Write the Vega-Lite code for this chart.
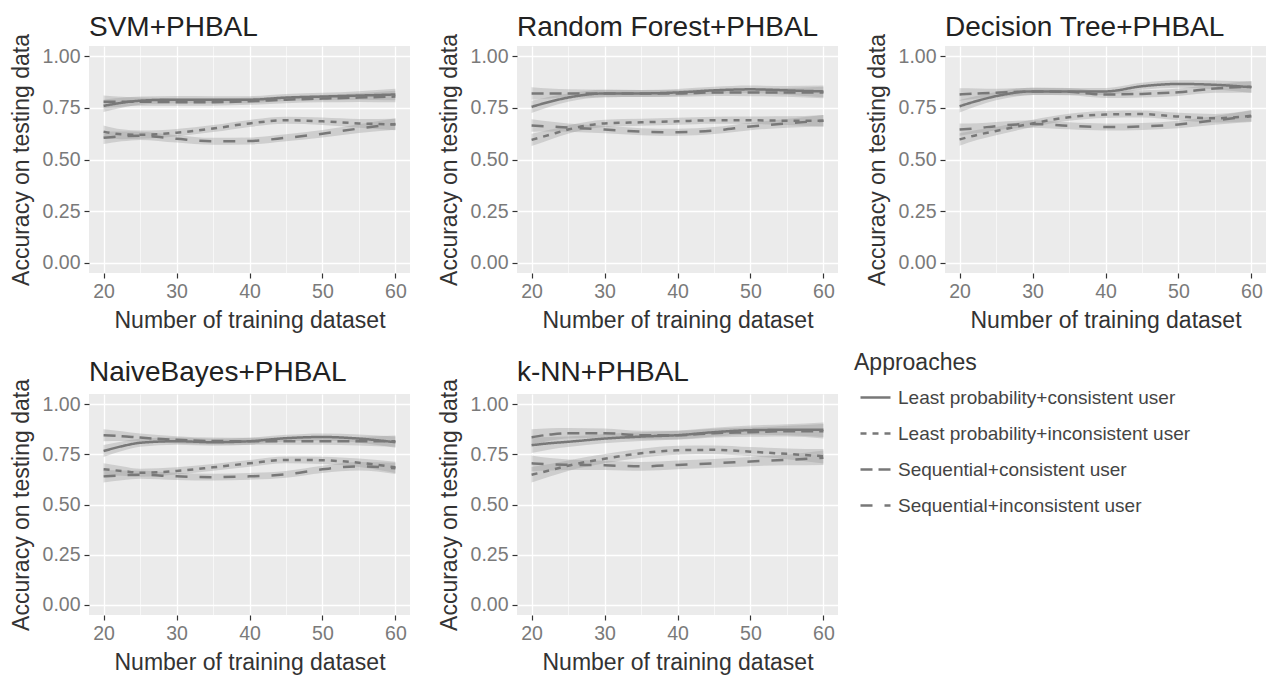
{
"$schema": "https://vega.github.io/schema/vega-lite/v6.json",
"padding": {"left": 10, "top": 13, "right": 5, "bottom": 5},
"background": "#ffffff",
"datasets": {"d": [
{"m":"SVM+PHBAL","a":"Least probability+consistent user","x":20,"y":0.76,"lo":0.73,"hi":0.79},
{"m":"SVM+PHBAL","a":"Least probability+consistent user","x":22.5,"y":0.775,"lo":0.751,"hi":0.799},
{"m":"SVM+PHBAL","a":"Least probability+consistent user","x":25,"y":0.785,"lo":0.765,"hi":0.805},
{"m":"SVM+PHBAL","a":"Least probability+consistent user","x":30,"y":0.79,"lo":0.772,"hi":0.808},
{"m":"SVM+PHBAL","a":"Least probability+consistent user","x":35,"y":0.79,"lo":0.773,"hi":0.807},
{"m":"SVM+PHBAL","a":"Least probability+consistent user","x":40,"y":0.79,"lo":0.773,"hi":0.807},
{"m":"SVM+PHBAL","a":"Least probability+consistent user","x":45,"y":0.8,"lo":0.783,"hi":0.817},
{"m":"SVM+PHBAL","a":"Least probability+consistent user","x":50,"y":0.805,"lo":0.787,"hi":0.823},
{"m":"SVM+PHBAL","a":"Least probability+consistent user","x":55,"y":0.81,"lo":0.789,"hi":0.831},
{"m":"SVM+PHBAL","a":"Least probability+consistent user","x":60,"y":0.815,"lo":0.787,"hi":0.843},
{"m":"SVM+PHBAL","a":"Least probability+inconsistent user","x":20,"y":0.635,"lo":0.605,"hi":0.665},
{"m":"SVM+PHBAL","a":"Least probability+inconsistent user","x":22.5,"y":0.622,"lo":0.598,"hi":0.646},
{"m":"SVM+PHBAL","a":"Least probability+inconsistent user","x":25,"y":0.62,"lo":0.6,"hi":0.64},
{"m":"SVM+PHBAL","a":"Least probability+inconsistent user","x":30,"y":0.63,"lo":0.612,"hi":0.648},
{"m":"SVM+PHBAL","a":"Least probability+inconsistent user","x":35,"y":0.65,"lo":0.633,"hi":0.667},
{"m":"SVM+PHBAL","a":"Least probability+inconsistent user","x":40,"y":0.675,"lo":0.658,"hi":0.692},
{"m":"SVM+PHBAL","a":"Least probability+inconsistent user","x":45,"y":0.69,"lo":0.673,"hi":0.707},
{"m":"SVM+PHBAL","a":"Least probability+inconsistent user","x":50,"y":0.685,"lo":0.667,"hi":0.703},
{"m":"SVM+PHBAL","a":"Least probability+inconsistent user","x":55,"y":0.675,"lo":0.654,"hi":0.696},
{"m":"SVM+PHBAL","a":"Least probability+inconsistent user","x":60,"y":0.67,"lo":0.642,"hi":0.698},
{"m":"SVM+PHBAL","a":"Sequential+consistent user","x":20,"y":0.78,"lo":0.75,"hi":0.81},
{"m":"SVM+PHBAL","a":"Sequential+consistent user","x":22.5,"y":0.78,"lo":0.756,"hi":0.804},
{"m":"SVM+PHBAL","a":"Sequential+consistent user","x":25,"y":0.78,"lo":0.76,"hi":0.8},
{"m":"SVM+PHBAL","a":"Sequential+consistent user","x":30,"y":0.778,"lo":0.76,"hi":0.796},
{"m":"SVM+PHBAL","a":"Sequential+consistent user","x":35,"y":0.778,"lo":0.761,"hi":0.795},
{"m":"SVM+PHBAL","a":"Sequential+consistent user","x":40,"y":0.782,"lo":0.765,"hi":0.799},
{"m":"SVM+PHBAL","a":"Sequential+consistent user","x":45,"y":0.79,"lo":0.773,"hi":0.807},
{"m":"SVM+PHBAL","a":"Sequential+consistent user","x":50,"y":0.795,"lo":0.777,"hi":0.813},
{"m":"SVM+PHBAL","a":"Sequential+consistent user","x":55,"y":0.8,"lo":0.779,"hi":0.821},
{"m":"SVM+PHBAL","a":"Sequential+consistent user","x":60,"y":0.805,"lo":0.777,"hi":0.833},
{"m":"SVM+PHBAL","a":"Sequential+inconsistent user","x":20,"y":0.605,"lo":0.575,"hi":0.635},
{"m":"SVM+PHBAL","a":"Sequential+inconsistent user","x":22.5,"y":0.612,"lo":0.588,"hi":0.636},
{"m":"SVM+PHBAL","a":"Sequential+inconsistent user","x":25,"y":0.615,"lo":0.595,"hi":0.635},
{"m":"SVM+PHBAL","a":"Sequential+inconsistent user","x":30,"y":0.6,"lo":0.582,"hi":0.618},
{"m":"SVM+PHBAL","a":"Sequential+inconsistent user","x":35,"y":0.588,"lo":0.571,"hi":0.605},
{"m":"SVM+PHBAL","a":"Sequential+inconsistent user","x":40,"y":0.59,"lo":0.573,"hi":0.607},
{"m":"SVM+PHBAL","a":"Sequential+inconsistent user","x":45,"y":0.605,"lo":0.588,"hi":0.622},
{"m":"SVM+PHBAL","a":"Sequential+inconsistent user","x":50,"y":0.625,"lo":0.607,"hi":0.643},
{"m":"SVM+PHBAL","a":"Sequential+inconsistent user","x":55,"y":0.65,"lo":0.629,"hi":0.671},
{"m":"SVM+PHBAL","a":"Sequential+inconsistent user","x":60,"y":0.672,"lo":0.644,"hi":0.7},
{"m":"Random Forest+PHBAL","a":"Least probability+consistent user","x":20,"y":0.755,"lo":0.725,"hi":0.785},
{"m":"Random Forest+PHBAL","a":"Least probability+consistent user","x":22.5,"y":0.78,"lo":0.756,"hi":0.804},
{"m":"Random Forest+PHBAL","a":"Least probability+consistent user","x":25,"y":0.8,"lo":0.78,"hi":0.82},
{"m":"Random Forest+PHBAL","a":"Least probability+consistent user","x":30,"y":0.82,"lo":0.802,"hi":0.838},
{"m":"Random Forest+PHBAL","a":"Least probability+consistent user","x":35,"y":0.82,"lo":0.803,"hi":0.837},
{"m":"Random Forest+PHBAL","a":"Least probability+consistent user","x":40,"y":0.825,"lo":0.808,"hi":0.842},
{"m":"Random Forest+PHBAL","a":"Least probability+consistent user","x":45,"y":0.835,"lo":0.818,"hi":0.852},
{"m":"Random Forest+PHBAL","a":"Least probability+consistent user","x":50,"y":0.84,"lo":0.822,"hi":0.858},
{"m":"Random Forest+PHBAL","a":"Least probability+consistent user","x":55,"y":0.835,"lo":0.814,"hi":0.856},
{"m":"Random Forest+PHBAL","a":"Least probability+consistent user","x":60,"y":0.83,"lo":0.802,"hi":0.858},
{"m":"Random Forest+PHBAL","a":"Least probability+inconsistent user","x":20,"y":0.595,"lo":0.565,"hi":0.625},
{"m":"Random Forest+PHBAL","a":"Least probability+inconsistent user","x":22.5,"y":0.62,"lo":0.596,"hi":0.644},
{"m":"Random Forest+PHBAL","a":"Least probability+inconsistent user","x":25,"y":0.645,"lo":0.625,"hi":0.665},
{"m":"Random Forest+PHBAL","a":"Least probability+inconsistent user","x":30,"y":0.675,"lo":0.657,"hi":0.693},
{"m":"Random Forest+PHBAL","a":"Least probability+inconsistent user","x":35,"y":0.68,"lo":0.663,"hi":0.697},
{"m":"Random Forest+PHBAL","a":"Least probability+inconsistent user","x":40,"y":0.685,"lo":0.668,"hi":0.702},
{"m":"Random Forest+PHBAL","a":"Least probability+inconsistent user","x":45,"y":0.69,"lo":0.673,"hi":0.707},
{"m":"Random Forest+PHBAL","a":"Least probability+inconsistent user","x":50,"y":0.69,"lo":0.672,"hi":0.708},
{"m":"Random Forest+PHBAL","a":"Least probability+inconsistent user","x":55,"y":0.688,"lo":0.667,"hi":0.709},
{"m":"Random Forest+PHBAL","a":"Least probability+inconsistent user","x":60,"y":0.688,"lo":0.66,"hi":0.716},
{"m":"Random Forest+PHBAL","a":"Sequential+consistent user","x":20,"y":0.82,"lo":0.79,"hi":0.85},
{"m":"Random Forest+PHBAL","a":"Sequential+consistent user","x":22.5,"y":0.82,"lo":0.796,"hi":0.844},
{"m":"Random Forest+PHBAL","a":"Sequential+consistent user","x":25,"y":0.82,"lo":0.8,"hi":0.84},
{"m":"Random Forest+PHBAL","a":"Sequential+consistent user","x":30,"y":0.82,"lo":0.802,"hi":0.838},
{"m":"Random Forest+PHBAL","a":"Sequential+consistent user","x":35,"y":0.82,"lo":0.803,"hi":0.837},
{"m":"Random Forest+PHBAL","a":"Sequential+consistent user","x":40,"y":0.82,"lo":0.803,"hi":0.837},
{"m":"Random Forest+PHBAL","a":"Sequential+consistent user","x":45,"y":0.825,"lo":0.808,"hi":0.842},
{"m":"Random Forest+PHBAL","a":"Sequential+consistent user","x":50,"y":0.825,"lo":0.807,"hi":0.843},
{"m":"Random Forest+PHBAL","a":"Sequential+consistent user","x":55,"y":0.825,"lo":0.804,"hi":0.846},
{"m":"Random Forest+PHBAL","a":"Sequential+consistent user","x":60,"y":0.825,"lo":0.797,"hi":0.853},
{"m":"Random Forest+PHBAL","a":"Sequential+inconsistent user","x":20,"y":0.665,"lo":0.635,"hi":0.695},
{"m":"Random Forest+PHBAL","a":"Sequential+inconsistent user","x":22.5,"y":0.66,"lo":0.636,"hi":0.684},
{"m":"Random Forest+PHBAL","a":"Sequential+inconsistent user","x":25,"y":0.655,"lo":0.635,"hi":0.675},
{"m":"Random Forest+PHBAL","a":"Sequential+inconsistent user","x":30,"y":0.645,"lo":0.627,"hi":0.663},
{"m":"Random Forest+PHBAL","a":"Sequential+inconsistent user","x":35,"y":0.635,"lo":0.618,"hi":0.652},
{"m":"Random Forest+PHBAL","a":"Sequential+inconsistent user","x":40,"y":0.632,"lo":0.615,"hi":0.649},
{"m":"Random Forest+PHBAL","a":"Sequential+inconsistent user","x":45,"y":0.64,"lo":0.623,"hi":0.657},
{"m":"Random Forest+PHBAL","a":"Sequential+inconsistent user","x":50,"y":0.66,"lo":0.642,"hi":0.678},
{"m":"Random Forest+PHBAL","a":"Sequential+inconsistent user","x":55,"y":0.675,"lo":0.654,"hi":0.696},
{"m":"Random Forest+PHBAL","a":"Sequential+inconsistent user","x":60,"y":0.688,"lo":0.66,"hi":0.716},
{"m":"Decision Tree+PHBAL","a":"Least probability+consistent user","x":20,"y":0.758,"lo":0.728,"hi":0.788},
{"m":"Decision Tree+PHBAL","a":"Least probability+consistent user","x":22.5,"y":0.785,"lo":0.761,"hi":0.809},
{"m":"Decision Tree+PHBAL","a":"Least probability+consistent user","x":25,"y":0.807,"lo":0.787,"hi":0.827},
{"m":"Decision Tree+PHBAL","a":"Least probability+consistent user","x":30,"y":0.83,"lo":0.812,"hi":0.848},
{"m":"Decision Tree+PHBAL","a":"Least probability+consistent user","x":35,"y":0.83,"lo":0.813,"hi":0.847},
{"m":"Decision Tree+PHBAL","a":"Least probability+consistent user","x":40,"y":0.83,"lo":0.813,"hi":0.847},
{"m":"Decision Tree+PHBAL","a":"Least probability+consistent user","x":45,"y":0.855,"lo":0.838,"hi":0.872},
{"m":"Decision Tree+PHBAL","a":"Least probability+consistent user","x":50,"y":0.866,"lo":0.848,"hi":0.884},
{"m":"Decision Tree+PHBAL","a":"Least probability+consistent user","x":55,"y":0.862,"lo":0.841,"hi":0.883},
{"m":"Decision Tree+PHBAL","a":"Least probability+consistent user","x":60,"y":0.85,"lo":0.822,"hi":0.878},
{"m":"Decision Tree+PHBAL","a":"Least probability+inconsistent user","x":20,"y":0.597,"lo":0.567,"hi":0.627},
{"m":"Decision Tree+PHBAL","a":"Least probability+inconsistent user","x":22.5,"y":0.62,"lo":0.596,"hi":0.644},
{"m":"Decision Tree+PHBAL","a":"Least probability+inconsistent user","x":25,"y":0.638,"lo":0.618,"hi":0.658},
{"m":"Decision Tree+PHBAL","a":"Least probability+inconsistent user","x":30,"y":0.675,"lo":0.657,"hi":0.693},
{"m":"Decision Tree+PHBAL","a":"Least probability+inconsistent user","x":35,"y":0.705,"lo":0.688,"hi":0.722},
{"m":"Decision Tree+PHBAL","a":"Least probability+inconsistent user","x":40,"y":0.718,"lo":0.701,"hi":0.735},
{"m":"Decision Tree+PHBAL","a":"Least probability+inconsistent user","x":45,"y":0.72,"lo":0.703,"hi":0.737},
{"m":"Decision Tree+PHBAL","a":"Least probability+inconsistent user","x":50,"y":0.708,"lo":0.69,"hi":0.726},
{"m":"Decision Tree+PHBAL","a":"Least probability+inconsistent user","x":55,"y":0.7,"lo":0.679,"hi":0.721},
{"m":"Decision Tree+PHBAL","a":"Least probability+inconsistent user","x":60,"y":0.712,"lo":0.684,"hi":0.74},
{"m":"Decision Tree+PHBAL","a":"Sequential+consistent user","x":20,"y":0.815,"lo":0.785,"hi":0.845},
{"m":"Decision Tree+PHBAL","a":"Sequential+consistent user","x":22.5,"y":0.82,"lo":0.796,"hi":0.844},
{"m":"Decision Tree+PHBAL","a":"Sequential+consistent user","x":25,"y":0.823,"lo":0.803,"hi":0.843},
{"m":"Decision Tree+PHBAL","a":"Sequential+consistent user","x":30,"y":0.83,"lo":0.812,"hi":0.848},
{"m":"Decision Tree+PHBAL","a":"Sequential+consistent user","x":35,"y":0.828,"lo":0.811,"hi":0.845},
{"m":"Decision Tree+PHBAL","a":"Sequential+consistent user","x":40,"y":0.815,"lo":0.798,"hi":0.832},
{"m":"Decision Tree+PHBAL","a":"Sequential+consistent user","x":45,"y":0.818,"lo":0.801,"hi":0.835},
{"m":"Decision Tree+PHBAL","a":"Sequential+consistent user","x":50,"y":0.826,"lo":0.808,"hi":0.844},
{"m":"Decision Tree+PHBAL","a":"Sequential+consistent user","x":55,"y":0.844,"lo":0.823,"hi":0.865},
{"m":"Decision Tree+PHBAL","a":"Sequential+consistent user","x":60,"y":0.853,"lo":0.825,"hi":0.881},
{"m":"Decision Tree+PHBAL","a":"Sequential+inconsistent user","x":20,"y":0.645,"lo":0.615,"hi":0.675},
{"m":"Decision Tree+PHBAL","a":"Sequential+inconsistent user","x":22.5,"y":0.652,"lo":0.628,"hi":0.676},
{"m":"Decision Tree+PHBAL","a":"Sequential+inconsistent user","x":25,"y":0.662,"lo":0.642,"hi":0.682},
{"m":"Decision Tree+PHBAL","a":"Sequential+inconsistent user","x":30,"y":0.672,"lo":0.654,"hi":0.69},
{"m":"Decision Tree+PHBAL","a":"Sequential+inconsistent user","x":35,"y":0.663,"lo":0.646,"hi":0.68},
{"m":"Decision Tree+PHBAL","a":"Sequential+inconsistent user","x":40,"y":0.657,"lo":0.64,"hi":0.674},
{"m":"Decision Tree+PHBAL","a":"Sequential+inconsistent user","x":45,"y":0.66,"lo":0.643,"hi":0.677},
{"m":"Decision Tree+PHBAL","a":"Sequential+inconsistent user","x":50,"y":0.67,"lo":0.652,"hi":0.688},
{"m":"Decision Tree+PHBAL","a":"Sequential+inconsistent user","x":55,"y":0.69,"lo":0.669,"hi":0.711},
{"m":"Decision Tree+PHBAL","a":"Sequential+inconsistent user","x":60,"y":0.71,"lo":0.682,"hi":0.738},
{"m":"NaiveBayes+PHBAL","a":"Least probability+consistent user","x":20,"y":0.766,"lo":0.736,"hi":0.796},
{"m":"NaiveBayes+PHBAL","a":"Least probability+consistent user","x":22.5,"y":0.79,"lo":0.766,"hi":0.814},
{"m":"NaiveBayes+PHBAL","a":"Least probability+consistent user","x":25,"y":0.807,"lo":0.787,"hi":0.827},
{"m":"NaiveBayes+PHBAL","a":"Least probability+consistent user","x":30,"y":0.815,"lo":0.797,"hi":0.833},
{"m":"NaiveBayes+PHBAL","a":"Least probability+consistent user","x":35,"y":0.81,"lo":0.793,"hi":0.827},
{"m":"NaiveBayes+PHBAL","a":"Least probability+consistent user","x":40,"y":0.815,"lo":0.798,"hi":0.832},
{"m":"NaiveBayes+PHBAL","a":"Least probability+consistent user","x":45,"y":0.83,"lo":0.813,"hi":0.847},
{"m":"NaiveBayes+PHBAL","a":"Least probability+consistent user","x":50,"y":0.836,"lo":0.818,"hi":0.854},
{"m":"NaiveBayes+PHBAL","a":"Least probability+consistent user","x":55,"y":0.828,"lo":0.807,"hi":0.849},
{"m":"NaiveBayes+PHBAL","a":"Least probability+consistent user","x":60,"y":0.81,"lo":0.782,"hi":0.838},
{"m":"NaiveBayes+PHBAL","a":"Least probability+inconsistent user","x":20,"y":0.675,"lo":0.645,"hi":0.705},
{"m":"NaiveBayes+PHBAL","a":"Least probability+inconsistent user","x":22.5,"y":0.667,"lo":0.643,"hi":0.691},
{"m":"NaiveBayes+PHBAL","a":"Least probability+inconsistent user","x":25,"y":0.658,"lo":0.638,"hi":0.678},
{"m":"NaiveBayes+PHBAL","a":"Least probability+inconsistent user","x":30,"y":0.667,"lo":0.649,"hi":0.685},
{"m":"NaiveBayes+PHBAL","a":"Least probability+inconsistent user","x":35,"y":0.685,"lo":0.668,"hi":0.702},
{"m":"NaiveBayes+PHBAL","a":"Least probability+inconsistent user","x":40,"y":0.705,"lo":0.688,"hi":0.722},
{"m":"NaiveBayes+PHBAL","a":"Least probability+inconsistent user","x":45,"y":0.722,"lo":0.705,"hi":0.739},
{"m":"NaiveBayes+PHBAL","a":"Least probability+inconsistent user","x":50,"y":0.72,"lo":0.702,"hi":0.738},
{"m":"NaiveBayes+PHBAL","a":"Least probability+inconsistent user","x":55,"y":0.708,"lo":0.687,"hi":0.729},
{"m":"NaiveBayes+PHBAL","a":"Least probability+inconsistent user","x":60,"y":0.685,"lo":0.657,"hi":0.713},
{"m":"NaiveBayes+PHBAL","a":"Sequential+consistent user","x":20,"y":0.845,"lo":0.815,"hi":0.875},
{"m":"NaiveBayes+PHBAL","a":"Sequential+consistent user","x":22.5,"y":0.84,"lo":0.816,"hi":0.864},
{"m":"NaiveBayes+PHBAL","a":"Sequential+consistent user","x":25,"y":0.833,"lo":0.813,"hi":0.853},
{"m":"NaiveBayes+PHBAL","a":"Sequential+consistent user","x":30,"y":0.822,"lo":0.804,"hi":0.84},
{"m":"NaiveBayes+PHBAL","a":"Sequential+consistent user","x":35,"y":0.816,"lo":0.799,"hi":0.833},
{"m":"NaiveBayes+PHBAL","a":"Sequential+consistent user","x":40,"y":0.815,"lo":0.798,"hi":0.832},
{"m":"NaiveBayes+PHBAL","a":"Sequential+consistent user","x":45,"y":0.815,"lo":0.798,"hi":0.832},
{"m":"NaiveBayes+PHBAL","a":"Sequential+consistent user","x":50,"y":0.815,"lo":0.797,"hi":0.833},
{"m":"NaiveBayes+PHBAL","a":"Sequential+consistent user","x":55,"y":0.815,"lo":0.794,"hi":0.836},
{"m":"NaiveBayes+PHBAL","a":"Sequential+consistent user","x":60,"y":0.815,"lo":0.787,"hi":0.843},
{"m":"NaiveBayes+PHBAL","a":"Sequential+inconsistent user","x":20,"y":0.64,"lo":0.61,"hi":0.67},
{"m":"NaiveBayes+PHBAL","a":"Sequential+inconsistent user","x":22.5,"y":0.645,"lo":0.621,"hi":0.669},
{"m":"NaiveBayes+PHBAL","a":"Sequential+inconsistent user","x":25,"y":0.648,"lo":0.628,"hi":0.668},
{"m":"NaiveBayes+PHBAL","a":"Sequential+inconsistent user","x":30,"y":0.64,"lo":0.622,"hi":0.658},
{"m":"NaiveBayes+PHBAL","a":"Sequential+inconsistent user","x":35,"y":0.636,"lo":0.619,"hi":0.653},
{"m":"NaiveBayes+PHBAL","a":"Sequential+inconsistent user","x":40,"y":0.64,"lo":0.623,"hi":0.657},
{"m":"NaiveBayes+PHBAL","a":"Sequential+inconsistent user","x":45,"y":0.65,"lo":0.633,"hi":0.667},
{"m":"NaiveBayes+PHBAL","a":"Sequential+inconsistent user","x":50,"y":0.675,"lo":0.657,"hi":0.693},
{"m":"NaiveBayes+PHBAL","a":"Sequential+inconsistent user","x":55,"y":0.69,"lo":0.669,"hi":0.711},
{"m":"NaiveBayes+PHBAL","a":"Sequential+inconsistent user","x":60,"y":0.68,"lo":0.652,"hi":0.708},
{"m":"k-NN+PHBAL","a":"Least probability+consistent user","x":20,"y":0.795,"lo":0.756,"hi":0.834},
{"m":"k-NN+PHBAL","a":"Least probability+consistent user","x":22.5,"y":0.805,"lo":0.774,"hi":0.836},
{"m":"k-NN+PHBAL","a":"Least probability+consistent user","x":25,"y":0.812,"lo":0.786,"hi":0.838},
{"m":"k-NN+PHBAL","a":"Least probability+consistent user","x":30,"y":0.828,"lo":0.805,"hi":0.851},
{"m":"k-NN+PHBAL","a":"Least probability+consistent user","x":35,"y":0.838,"lo":0.816,"hi":0.86},
{"m":"k-NN+PHBAL","a":"Least probability+consistent user","x":40,"y":0.845,"lo":0.823,"hi":0.867},
{"m":"k-NN+PHBAL","a":"Least probability+consistent user","x":45,"y":0.86,"lo":0.838,"hi":0.882},
{"m":"k-NN+PHBAL","a":"Least probability+consistent user","x":50,"y":0.87,"lo":0.847,"hi":0.893},
{"m":"k-NN+PHBAL","a":"Least probability+consistent user","x":55,"y":0.872,"lo":0.845,"hi":0.899},
{"m":"k-NN+PHBAL","a":"Least probability+consistent user","x":60,"y":0.872,"lo":0.836,"hi":0.908},
{"m":"k-NN+PHBAL","a":"Least probability+inconsistent user","x":20,"y":0.648,"lo":0.609,"hi":0.687},
{"m":"k-NN+PHBAL","a":"Least probability+inconsistent user","x":22.5,"y":0.67,"lo":0.639,"hi":0.701},
{"m":"k-NN+PHBAL","a":"Least probability+inconsistent user","x":25,"y":0.693,"lo":0.667,"hi":0.719},
{"m":"k-NN+PHBAL","a":"Least probability+inconsistent user","x":30,"y":0.728,"lo":0.705,"hi":0.751},
{"m":"k-NN+PHBAL","a":"Least probability+inconsistent user","x":35,"y":0.755,"lo":0.733,"hi":0.777},
{"m":"k-NN+PHBAL","a":"Least probability+inconsistent user","x":40,"y":0.77,"lo":0.748,"hi":0.792},
{"m":"k-NN+PHBAL","a":"Least probability+inconsistent user","x":45,"y":0.772,"lo":0.75,"hi":0.794},
{"m":"k-NN+PHBAL","a":"Least probability+inconsistent user","x":50,"y":0.763,"lo":0.74,"hi":0.786},
{"m":"k-NN+PHBAL","a":"Least probability+inconsistent user","x":55,"y":0.752,"lo":0.725,"hi":0.779},
{"m":"k-NN+PHBAL","a":"Least probability+inconsistent user","x":60,"y":0.74,"lo":0.704,"hi":0.776},
{"m":"k-NN+PHBAL","a":"Sequential+consistent user","x":20,"y":0.835,"lo":0.796,"hi":0.874},
{"m":"k-NN+PHBAL","a":"Sequential+consistent user","x":22.5,"y":0.848,"lo":0.817,"hi":0.879},
{"m":"k-NN+PHBAL","a":"Sequential+consistent user","x":25,"y":0.855,"lo":0.829,"hi":0.881},
{"m":"k-NN+PHBAL","a":"Sequential+consistent user","x":30,"y":0.855,"lo":0.832,"hi":0.878},
{"m":"k-NN+PHBAL","a":"Sequential+consistent user","x":35,"y":0.845,"lo":0.823,"hi":0.867},
{"m":"k-NN+PHBAL","a":"Sequential+consistent user","x":40,"y":0.845,"lo":0.823,"hi":0.867},
{"m":"k-NN+PHBAL","a":"Sequential+consistent user","x":45,"y":0.855,"lo":0.833,"hi":0.877},
{"m":"k-NN+PHBAL","a":"Sequential+consistent user","x":50,"y":0.86,"lo":0.837,"hi":0.883},
{"m":"k-NN+PHBAL","a":"Sequential+consistent user","x":55,"y":0.865,"lo":0.838,"hi":0.892},
{"m":"k-NN+PHBAL","a":"Sequential+consistent user","x":60,"y":0.865,"lo":0.829,"hi":0.901},
{"m":"k-NN+PHBAL","a":"Sequential+inconsistent user","x":20,"y":0.705,"lo":0.666,"hi":0.744},
{"m":"k-NN+PHBAL","a":"Sequential+inconsistent user","x":22.5,"y":0.7,"lo":0.669,"hi":0.731},
{"m":"k-NN+PHBAL","a":"Sequential+inconsistent user","x":25,"y":0.698,"lo":0.672,"hi":0.724},
{"m":"k-NN+PHBAL","a":"Sequential+inconsistent user","x":30,"y":0.695,"lo":0.672,"hi":0.718},
{"m":"k-NN+PHBAL","a":"Sequential+inconsistent user","x":35,"y":0.69,"lo":0.668,"hi":0.712},
{"m":"k-NN+PHBAL","a":"Sequential+inconsistent user","x":40,"y":0.697,"lo":0.675,"hi":0.719},
{"m":"k-NN+PHBAL","a":"Sequential+inconsistent user","x":45,"y":0.705,"lo":0.683,"hi":0.727},
{"m":"k-NN+PHBAL","a":"Sequential+inconsistent user","x":50,"y":0.714,"lo":0.691,"hi":0.737},
{"m":"k-NN+PHBAL","a":"Sequential+inconsistent user","x":55,"y":0.722,"lo":0.695,"hi":0.749},
{"m":"k-NN+PHBAL","a":"Sequential+inconsistent user","x":60,"y":0.733,"lo":0.697,"hi":0.769}
]},
"data": {"name": "d"},
"bounds": "flush",
"spacing": 348,
"vconcat": [
{"hconcat": [
{"title": "SVM+PHBAL", "width": 321, "height": 227, "transform": [{"filter": "datum.m === 'SVM+PHBAL'"}],
 "layer": [
  {"mark": {"type": "area", "color": "#999999", "opacity": 0.35, "interpolate": "monotone"}, "encoding": {"x": {"field": "x", "type": "quantitative", "scale": {"domain": [18, 62], "nice": false, "zero": false}, "axis": {"title": "Number of training dataset", "values": [20,25,30,35,40,45,50,55,60], "labelExpr": "datum.value % 10 === 0 ? datum.label : ''", "tickOpacity": {"condition": {"test": "datum.value % 10 !== 0", "value": 0}, "value": 1}, "gridWidth": {"condition": {"test": "datum.value % 10 !== 0", "value": 0.6}, "value": 1.3}}}, "y": {"field": "lo", "type": "quantitative", "scale": {"domain": [-0.05, 1.05], "nice": false, "zero": false}, "axis": {"title": "Accuracy on testing data", "values": [0,0.125,0.25,0.375,0.5,0.625,0.75,0.875,1], "labelExpr": "round(datum.value*8) % 2 === 0 ? format(datum.value, '.2f') : ''", "tickOpacity": {"condition": {"test": "round(datum.value*8) % 2 === 1", "value": 0}, "value": 1}, "gridWidth": {"condition": {"test": "round(datum.value*8) % 2 === 1", "value": 0.6}, "value": 1.3}}}, "y2": {"field": "hi"}, "detail": {"field": "a"}}},
  {"mark": {"type": "line", "color": "#787878", "strokeWidth": 2.5, "interpolate": "monotone"}, "encoding": {"x": {"field": "x", "type": "quantitative"}, "y": {"field": "y", "type": "quantitative"}, "strokeDash": {"field": "a", "type": "nominal", "scale": {"domain": ["Least probability+consistent user", "Least probability+inconsistent user", "Sequential+consistent user", "Sequential+inconsistent user"], "range": [[1, 0], [6, 6], [12, 6], [12, 12]]}, "title": "Approaches"}}}
 ]},
{"title": "Random Forest+PHBAL", "width": 321, "height": 227, "transform": [{"filter": "datum.m === 'Random Forest+PHBAL'"}],
 "layer": [
  {"mark": {"type": "area", "color": "#999999", "opacity": 0.35, "interpolate": "monotone"}, "encoding": {"x": {"field": "x", "type": "quantitative", "scale": {"domain": [18, 62], "nice": false, "zero": false}, "axis": {"title": "Number of training dataset", "values": [20,25,30,35,40,45,50,55,60], "labelExpr": "datum.value % 10 === 0 ? datum.label : ''", "tickOpacity": {"condition": {"test": "datum.value % 10 !== 0", "value": 0}, "value": 1}, "gridWidth": {"condition": {"test": "datum.value % 10 !== 0", "value": 0.6}, "value": 1.3}}}, "y": {"field": "lo", "type": "quantitative", "scale": {"domain": [-0.05, 1.05], "nice": false, "zero": false}, "axis": {"title": "Accuracy on testing data", "values": [0,0.125,0.25,0.375,0.5,0.625,0.75,0.875,1], "labelExpr": "round(datum.value*8) % 2 === 0 ? format(datum.value, '.2f') : ''", "tickOpacity": {"condition": {"test": "round(datum.value*8) % 2 === 1", "value": 0}, "value": 1}, "gridWidth": {"condition": {"test": "round(datum.value*8) % 2 === 1", "value": 0.6}, "value": 1.3}}}, "y2": {"field": "hi"}, "detail": {"field": "a"}}},
  {"mark": {"type": "line", "color": "#787878", "strokeWidth": 2.5, "interpolate": "monotone"}, "encoding": {"x": {"field": "x", "type": "quantitative"}, "y": {"field": "y", "type": "quantitative"}, "strokeDash": {"field": "a", "type": "nominal", "title": "Approaches"}}}
 ]},
{"title": "Decision Tree+PHBAL", "width": 321, "height": 227, "transform": [{"filter": "datum.m === 'Decision Tree+PHBAL'"}],
 "layer": [
  {"mark": {"type": "area", "color": "#999999", "opacity": 0.35, "interpolate": "monotone"}, "encoding": {"x": {"field": "x", "type": "quantitative", "scale": {"domain": [18, 62], "nice": false, "zero": false}, "axis": {"title": "Number of training dataset", "values": [20,25,30,35,40,45,50,55,60], "labelExpr": "datum.value % 10 === 0 ? datum.label : ''", "tickOpacity": {"condition": {"test": "datum.value % 10 !== 0", "value": 0}, "value": 1}, "gridWidth": {"condition": {"test": "datum.value % 10 !== 0", "value": 0.6}, "value": 1.3}}}, "y": {"field": "lo", "type": "quantitative", "scale": {"domain": [-0.05, 1.05], "nice": false, "zero": false}, "axis": {"title": "Accuracy on testing data", "values": [0,0.125,0.25,0.375,0.5,0.625,0.75,0.875,1], "labelExpr": "round(datum.value*8) % 2 === 0 ? format(datum.value, '.2f') : ''", "tickOpacity": {"condition": {"test": "round(datum.value*8) % 2 === 1", "value": 0}, "value": 1}, "gridWidth": {"condition": {"test": "round(datum.value*8) % 2 === 1", "value": 0.6}, "value": 1.3}}}, "y2": {"field": "hi"}, "detail": {"field": "a"}}},
  {"mark": {"type": "line", "color": "#787878", "strokeWidth": 2.5, "interpolate": "monotone"}, "encoding": {"x": {"field": "x", "type": "quantitative"}, "y": {"field": "y", "type": "quantitative"}, "strokeDash": {"field": "a", "type": "nominal", "title": "Approaches"}}}
 ]}
], "spacing": 107, "bounds": "flush"},
{"hconcat": [
{"title": "NaiveBayes+PHBAL", "width": 321, "height": 221, "transform": [{"filter": "datum.m === 'NaiveBayes+PHBAL'"}],
 "layer": [
  {"mark": {"type": "area", "color": "#999999", "opacity": 0.35, "interpolate": "monotone"}, "encoding": {"x": {"field": "x", "type": "quantitative", "scale": {"domain": [18, 62], "nice": false, "zero": false}, "axis": {"title": "Number of training dataset", "values": [20,25,30,35,40,45,50,55,60], "labelExpr": "datum.value % 10 === 0 ? datum.label : ''", "tickOpacity": {"condition": {"test": "datum.value % 10 !== 0", "value": 0}, "value": 1}, "gridWidth": {"condition": {"test": "datum.value % 10 !== 0", "value": 0.6}, "value": 1.3}}}, "y": {"field": "lo", "type": "quantitative", "scale": {"domain": [-0.05, 1.05], "nice": false, "zero": false}, "axis": {"title": "Accuracy on testing data", "values": [0,0.125,0.25,0.375,0.5,0.625,0.75,0.875,1], "labelExpr": "round(datum.value*8) % 2 === 0 ? format(datum.value, '.2f') : ''", "tickOpacity": {"condition": {"test": "round(datum.value*8) % 2 === 1", "value": 0}, "value": 1}, "gridWidth": {"condition": {"test": "round(datum.value*8) % 2 === 1", "value": 0.6}, "value": 1.3}}}, "y2": {"field": "hi"}, "detail": {"field": "a"}}},
  {"mark": {"type": "line", "color": "#787878", "strokeWidth": 2.5, "interpolate": "monotone"}, "encoding": {"x": {"field": "x", "type": "quantitative"}, "y": {"field": "y", "type": "quantitative"}, "strokeDash": {"field": "a", "type": "nominal", "title": "Approaches"}}}
 ]},
{"title": "k-NN+PHBAL", "width": 321, "height": 221, "transform": [{"filter": "datum.m === 'k-NN+PHBAL'"}],
 "layer": [
  {"mark": {"type": "area", "color": "#999999", "opacity": 0.35, "interpolate": "monotone"}, "encoding": {"x": {"field": "x", "type": "quantitative", "scale": {"domain": [18, 62], "nice": false, "zero": false}, "axis": {"title": "Number of training dataset", "values": [20,25,30,35,40,45,50,55,60], "labelExpr": "datum.value % 10 === 0 ? datum.label : ''", "tickOpacity": {"condition": {"test": "datum.value % 10 !== 0", "value": 0}, "value": 1}, "gridWidth": {"condition": {"test": "datum.value % 10 !== 0", "value": 0.6}, "value": 1.3}}}, "y": {"field": "lo", "type": "quantitative", "scale": {"domain": [-0.05, 1.05], "nice": false, "zero": false}, "axis": {"title": "Accuracy on testing data", "values": [0,0.125,0.25,0.375,0.5,0.625,0.75,0.875,1], "labelExpr": "round(datum.value*8) % 2 === 0 ? format(datum.value, '.2f') : ''", "tickOpacity": {"condition": {"test": "round(datum.value*8) % 2 === 1", "value": 0}, "value": 1}, "gridWidth": {"condition": {"test": "round(datum.value*8) % 2 === 1", "value": 0.6}, "value": 1.3}}}, "y2": {"field": "hi"}, "detail": {"field": "a"}}},
  {"mark": {"type": "line", "color": "#787878", "strokeWidth": 2.5, "interpolate": "monotone"}, "encoding": {"x": {"field": "x", "type": "quantitative"}, "y": {"field": "y", "type": "quantitative"}, "strokeDash": {"field": "a", "type": "nominal", "title": "Approaches"}}}
 ]}
], "spacing": 107, "bounds": "flush"}
],
"resolve": {"scale": {"x": "independent", "y": "independent"}},
"config": {
 "view": {"fill": "#ebebeb", "stroke": null},
 "axis": {"domain": false, "gridColor": "#ffffff", "tickColor": "#333333", "tickSize": 5, "tickWidth": 1.2, "labelColor": "#7a7a7a", "labelFont": "Liberation Sans", "labelFontSize": 19.5, "labelPadding": 4, "labelOverlap": false, "labelFlush": false, "titleFont": "Liberation Sans", "titleFontSize": 23, "titleFontWeight": "normal", "titleColor": "#333333", "titlePadding": 9},
 "title": {"font": "Liberation Sans", "fontSize": 28, "fontWeight": "normal", "anchor": "start", "frame": "group", "color": "#222222", "offset": -8},
 "legend": {"orient": "none", "legendX": 765, "legendY": 306, "titleFont": "Liberation Sans", "titleFontSize": 23, "titleFontWeight": "normal", "titleColor": "#333333", "titlePadding": 6, "labelFont": "Liberation Sans", "labelFontSize": 19, "labelColor": "#444444", "labelLimit": 0, "labelOffset": 6, "symbolOffset": 5, "symbolType": "stroke", "symbolSize": 900, "symbolStrokeWidth": 2.5, "symbolStrokeColor": "#787878", "rowPadding": 9}
}
}
